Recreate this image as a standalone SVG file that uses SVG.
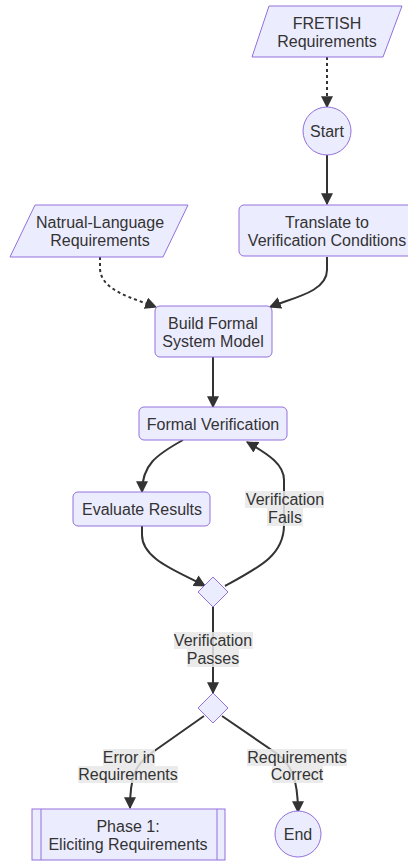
<svg xmlns="http://www.w3.org/2000/svg" width="408" height="861" viewBox="0 0 408 861">
<style>
.node{fill:#ECECFF;stroke:#9370DB;stroke-width:1}
.t{font-family:"Liberation Sans",Arial,sans-serif;font-size:16px;fill:#333;text-anchor:middle;dominant-baseline:central}
.e{fill:none;stroke:#333;stroke-width:2}
.d{stroke-dasharray:3 3}
.lb{fill:#e8e8e8;opacity:0.85}
</style>
<defs>
<marker id="arr" viewBox="0 0 10 10" refX="9" refY="5" markerWidth="12" markerHeight="12" markerUnits="userSpaceOnUse" orient="auto">
<path d="M0,0 L10,5 L0,10 z" fill="#333"/>
</marker>
</defs>
<rect width="408" height="861" fill="#fff"/>
<g id="edges">
<path class="e d" d="M327,57 L327,107" marker-end="url(#arr)"/>
<path class="e" d="M327,155 L327,204" marker-end="url(#arr)"/>
<path class="e d" d="M100,257 L100,268 C100,290 132,298 156,307" marker-end="url(#arr)"/>
<path class="e" d="M327,257 L327,270 C327,292 292,298 270,307" marker-end="url(#arr)"/>
<path class="e" d="M213,357 L213,407" marker-end="url(#arr)"/>
<path class="e" d="M183,440 C156,455 142,465 142,492" marker-end="url(#arr)"/>
<path class="e" d="M142,526 L142,535 C142,560 180,572 205,586" marker-end="url(#arr)"/>
<path class="e" d="M225,586 C260,567 284,555 284,525 L284,480 C284,465 270,455 247,442" marker-end="url(#arr)"/>
<path class="e" d="M213,607 L213,693" marker-end="url(#arr)"/>
<path class="e" d="M204,716 L150,754 C135,765 130,778 130,808" marker-end="url(#arr)"/>
<path class="e" d="M222,716 L276,753 C291,764 298,778 298,812" marker-end="url(#arr)"/>
</g>
<g id="label-fails">
<rect class="lb" x="245" y="491" width="79" height="17"/>
<rect class="lb" x="267" y="508" width="36" height="18"/>
<text class="t" x="285" y="499">Verification</text>
<text class="t" x="285" y="517">Fails</text>
</g>
<g id="label-passes">
<rect class="lb" x="174" y="632" width="79" height="17"/>
<rect class="lb" x="187" y="649" width="52" height="18"/>
<text class="t" x="213" y="640">Verification</text>
<text class="t" x="213" y="658">Passes</text>
</g>
<g id="label-error">
<rect class="lb" x="103" y="749" width="52" height="17"/>
<rect class="lb" x="78" y="766" width="100" height="17"/>
<text class="t" x="129" y="757">Error in</text>
<text class="t" x="128" y="774">Requirements</text>
</g>
<g id="label-correct">
<rect class="lb" x="247" y="749" width="100" height="17"/>
<rect class="lb" x="272" y="766" width="51" height="17"/>
<text class="t" x="297" y="757">Requirements</text>
<text class="t" x="297" y="774">Correct</text>
</g>
<g id="fretish">
<polygon class="node" points="269,6 402,6 383,57 252,57"/>
<text class="t" x="327" y="23">FRETISH</text>
<text class="t" x="327" y="41">Requirements</text>
</g>
<g id="start">
<circle class="node" cx="327" cy="131" r="24"/>
<text class="t" x="327" y="131">Start</text>
</g>
<g id="natural">
<polygon class="node" points="35,205 188,205 163,257 10,257"/>
<text class="t" x="100" y="222">Natrual-Language</text>
<text class="t" x="100" y="240">Requirements</text>
</g>
<g id="translate">
<rect class="node" x="239" y="205" width="176" height="51" rx="5"/>
<text class="t" x="327" y="222">Translate to</text>
<text class="t" x="327" y="240">Verification Conditions</text>
</g>
<g id="build">
<rect class="node" x="155" y="306" width="117" height="51" rx="5"/>
<text class="t" x="213" y="323">Build Formal</text>
<text class="t" x="213" y="341">System Model</text>
</g>
<g id="formal">
<rect class="node" x="139" y="407" width="148" height="33" rx="5"/>
<text class="t" x="213" y="424">Formal Verification</text>
</g>
<g id="evaluate">
<rect class="node" x="73" y="492" width="137" height="34" rx="5"/>
<text class="t" x="142" y="509">Evaluate Results</text>
</g>
<g id="decision1">
<polygon class="node" points="213,577 228,592 213,607 198,592"/>
</g>
<g id="decision2">
<polygon class="node" points="213,693 228,708 213,723 198,708"/>
</g>
<g id="phase1">
<rect class="node" x="32" y="809" width="193" height="51"/>
<line x1="41" y1="809" x2="41" y2="860" stroke="#9370DB" stroke-width="1"/>
<line x1="217" y1="809" x2="217" y2="860" stroke="#9370DB" stroke-width="1"/>
<text class="t" x="128" y="826">Phase 1:</text>
<text class="t" x="128" y="844">Eliciting Requirements</text>
</g>
<g id="end">
<circle class="node" cx="298" cy="834" r="23"/>
<text class="t" x="298" y="834">End</text>
</g>
</svg>
